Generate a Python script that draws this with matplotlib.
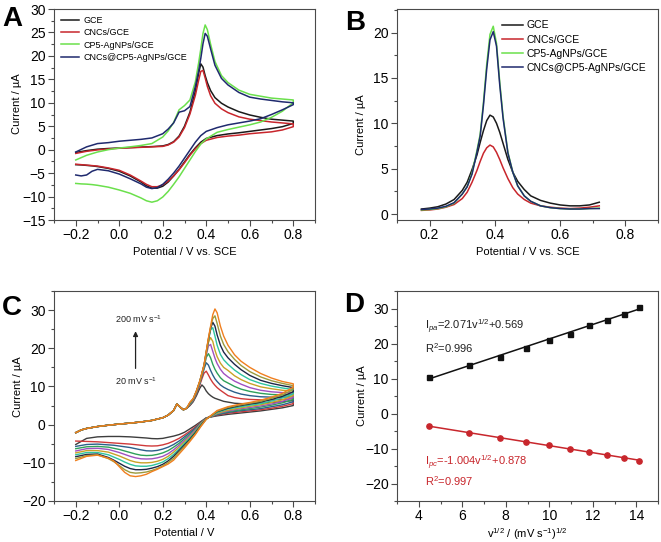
import numpy as np
import matplotlib
matplotlib.use("Agg")
import matplotlib.pyplot as plt
from matplotlib.ticker import MultipleLocator

plt.rcParams['font.family'] = ['Liberation Sans', 'DejaVu Sans']
plt.rcParams['mathtext.fontset'] = 'custom'
plt.rcParams['mathtext.rm'] = 'Liberation Sans'
plt.rcParams['mathtext.it'] = 'Liberation Sans:italic'

# ---------- panel A : CV of the four electrodes ----------
a_labels = ["GCE", "CNCs/GCE", "CP5-AgNPs/GCE", "CNCs@CP5-AgNPs/GCE"]
a_colors = ["#1a1a1a", "#c8262c", "#6be04c", "#1f2a6e"]

a_E_fwd = [-0.2, -0.15, -0.1, -0.05, 0.0, 0.05, 0.1, 0.15, 0.2, 0.225, 0.25, 0.275, 0.3, 0.325,
           0.35, 0.365, 0.375, 0.385, 0.395, 0.405, 0.42, 0.44, 0.47, 0.5, 0.55, 0.6, 0.65, 0.7,
           0.75, 0.8]
gce_fwd = [-0.6, -0.2, 0.1, 0.25, 0.35, 0.45, 0.55, 0.65, 0.8, 1.1, 1.7, 2.9, 5.0, 8.0, 12.5,
           16.3, 18.3, 17.6, 15.8, 14.3, 12.6, 11.1, 9.9, 9.1, 8.1, 7.4, 6.9, 6.5, 6.3, 6.1]
cncs_fwd = [-0.8, -0.35, -0.05, 0.15, 0.3, 0.4, 0.5, 0.6, 0.7, 1.0, 1.6, 2.7, 4.7, 7.6, 11.6,
            14.8, 16.7, 16.9, 15.3, 13.5, 11.5, 9.9, 8.7, 7.9, 7.0, 6.5, 6.2, 5.9, 5.7, 5.5]
cp5_fwd = [-2.2, -1.2, -0.5, 0.0, 0.35, 0.6, 0.9, 1.3, 2.7, 4.0, 5.8, 8.5, 9.4, 10.6, 14.5,
           18.5, 21.5, 24.8, 26.6, 25.6, 22.5, 18.8, 15.8, 14.3, 12.7, 11.8, 11.4, 11.0, 10.8, 10.6]
mix_fwd = [-0.5, 0.6, 1.3, 1.5, 1.8, 2.0, 2.2, 2.5, 3.4, 4.4, 5.7, 8.0, 8.3, 9.2, 13.5, 16.8,
           19.5, 22.6, 24.8, 24.2, 21.5, 18.0, 15.2, 13.8, 12.2, 11.2, 10.8, 10.5, 10.2, 10.0]

a_E_rev = [0.8, 0.75, 0.7, 0.65, 0.6, 0.55, 0.5, 0.45, 0.4, 0.375, 0.35, 0.325, 0.3, 0.275, 0.25,
           0.225, 0.2, 0.175, 0.15, 0.125, 0.1, 0.05, 0.0, -0.05, -0.1, -0.125, -0.15, -0.175, -0.2]
gce_rev = [5.6, 4.9, 4.5, 4.2, 3.9, 3.6, 3.35, 3.0, 2.4, 1.6, 0.4, -1.0, -2.6, -4.2, -5.6, -6.9,
           -7.8, -8.2, -8.2, -7.7, -6.9, -5.6, -4.6, -4.0, -3.6, -3.45, -3.35, -3.25, -3.2]
cncs_rev = [4.9, 4.2, 3.8, 3.6, 3.4, 3.1, 2.9, 2.6, 2.0, 1.3, 0.2, -1.2, -2.8, -4.3, -5.6, -6.7,
            -7.5, -7.9, -7.9, -7.4, -6.7, -5.4, -4.4, -3.9, -3.5, -3.4, -3.3, -3.2, -3.1]
cp5_rev = [10.0, 8.2, 6.9, 5.9, 5.3, 4.8, 4.3, 3.7, 2.3, 1.2, -0.4, -2.2, -4.0, -5.8, -7.4, -8.9,
           -10.1, -10.9, -11.2, -10.9, -10.3, -9.3, -8.6, -8.0, -7.6, -7.45, -7.35, -7.3, -7.2]
mix_rev = [9.6, 8.5, 7.5, 6.6, 6.1, 5.7, 5.3, 4.7, 3.9, 3.0, 1.6, -0.1, -1.8, -3.5, -5.0, -6.3,
           -7.4, -8.1, -8.3, -8.0, -7.3, -6.2, -5.2, -4.5, -4.2, -4.6, -5.4, -5.6, -5.4]

# ---------- panel B : DPV ----------
b_E = [0.175, 0.2, 0.225, 0.25, 0.275, 0.3, 0.315, 0.33, 0.345, 0.355, 0.365, 0.375, 0.385, 0.395,
       0.405, 0.415, 0.425, 0.44, 0.455, 0.47, 0.49, 0.51, 0.54, 0.57, 0.6, 0.63, 0.66, 0.69, 0.72]
gce_dpv = [0.55, 0.65, 0.8, 1.1, 1.6, 2.6, 3.5, 4.9, 6.5, 7.9, 9.2, 10.3, 10.9, 10.7, 10.0, 9.0,
           7.8, 6.0, 4.6, 3.6, 2.7, 2.0, 1.5, 1.2, 1.0, 0.9, 0.9, 1.0, 1.3]
cncs_dpv = [0.4, 0.45, 0.55, 0.75, 1.05, 1.7, 2.4, 3.5, 4.8, 5.8, 6.7, 7.3, 7.6, 7.4, 6.8, 6.0,
            5.1, 3.9, 2.9, 2.2, 1.6, 1.2, 0.9, 0.75, 0.65, 0.6, 0.65, 0.75, 0.9]
cp5_dpv = [0.45, 0.5, 0.6, 0.8, 1.2, 2.2, 3.0, 4.5, 7.0, 8.8, 12.3, 16.5, 19.8, 20.7, 18.8, 14.5,
           10.8, 6.8, 4.6, 3.1, 2.0, 1.4, 0.9, 0.7, 0.6, 0.55, 0.55, 0.6, 0.65]
mix_dpv = [0.5, 0.55, 0.65, 0.85, 1.25, 2.2, 3.0, 4.4, 6.8, 8.6, 12.0, 16.0, 19.2, 20.1, 18.5, 14.2,
           10.6, 6.7, 4.6, 3.1, 2.0, 1.4, 0.9, 0.7, 0.6, 0.55, 0.55, 0.6, 0.6]

# ---------- panel C : CV at 20..200 mV/s ----------
scan_rates = [20, 40, 60, 80, 100, 120, 140, 160, 180, 200]
c_colors = ['#3d3d3d', '#d03a3a', '#2b5f8a', '#2ea05a', '#a050c0',
            '#c9a227', '#2ec4a0', '#1d2747', '#9c9a3c', '#f07f1e']

c_E_common = [-0.2, -0.175, -0.15, -0.1, -0.05, 0.0, 0.05, 0.1, 0.15, 0.2, 0.225, 0.25,
              0.265, 0.28, 0.295, 0.31]
c_I_common = [-2.1, -1.4, -1.0, -0.5, -0.15, 0.15, 0.4, 0.7, 1.1, 1.8, 2.5, 3.7, 5.4, 4.6, 3.9, 4.3]

c_E_fwd = [0.325, 0.34, 0.355, 0.37, 0.38, 0.39, 0.4, 0.41, 0.42, 0.43, 0.44, 0.45, 0.465, 0.48,
           0.5, 0.53, 0.56, 0.6, 0.65, 0.7, 0.75, 0.8]
c_fwd = [
    [5.0, 6.0, 7.6, 9.5, 10.4, 9.8, 8.8, 8.1, 7.6, 7.2, 6.9, 6.7, 6.4, 6.1, 5.9, 5.6, 5.5, 5.5, 5.6, 5.8, 6.0, 6.3],
    [5.1, 6.2, 8.0, 10.3, 12.0, 13.5, 14.0, 13.0, 11.9, 11.0, 10.3, 9.7, 9.0, 8.4, 7.6, 7.1, 6.8, 6.6, 6.5, 6.5, 6.6, 6.8],
    [5.2, 6.3, 8.2, 10.7, 12.6, 14.6, 16.2, 15.6, 14.2, 13.0, 12.0, 11.3, 10.4, 9.8, 9.2, 8.5, 8.0, 7.6, 7.3, 7.2, 7.2, 7.3],
    [5.3, 6.4, 8.4, 10.9, 12.9, 15.0, 17.6, 18.6, 17.5, 15.8, 14.5, 13.5, 12.3, 11.5, 10.9, 10.0, 9.3, 8.7, 8.2, 7.9, 7.8, 7.8],
    [5.4, 6.5, 8.5, 11.0, 13.1, 15.3, 18.2, 20.6, 21.0, 19.2, 17.4, 16.0, 14.5, 13.4, 12.5, 11.4, 10.6, 9.7, 9.0, 8.6, 8.4, 8.3],
    [5.5, 6.6, 8.6, 11.1, 13.2, 15.4, 18.6, 21.5, 22.8, 21.8, 19.5, 17.8, 16.1, 15.0, 14.2, 12.8, 11.8, 10.8, 9.9, 9.4, 9.0, 8.8],
    [5.6, 6.7, 8.7, 11.2, 13.3, 15.5, 18.8, 22.0, 24.8, 25.4, 23.2, 20.8, 18.4, 17.0, 15.8, 14.3, 13.1, 11.8, 10.8, 10.1, 9.6, 9.2],
    [5.7, 6.7, 8.8, 11.3, 13.4, 15.6, 19.0, 22.3, 25.2, 26.8, 25.8, 23.5, 20.8, 19.0, 17.5, 15.8, 14.4, 12.9, 11.6, 10.8, 10.2, 9.7],
    [5.8, 6.8, 8.8, 11.3, 13.4, 15.6, 19.1, 22.5, 25.5, 27.8, 28.5, 26.5, 23.2, 21.0, 19.1, 17.1, 15.5, 13.9, 12.5, 11.5, 10.8, 10.2],
    [5.9, 6.8, 8.9, 11.4, 13.5, 15.7, 19.2, 22.7, 25.8, 28.8, 30.3, 29.3, 25.8, 23.2, 20.8, 18.3, 16.6, 15.0, 13.4, 12.2, 11.3, 10.7],
]

c_E_rev = [0.8, 0.75, 0.7, 0.65, 0.6, 0.55, 0.5, 0.45, 0.4, 0.375, 0.35, 0.325, 0.3, 0.275, 0.25,
           0.225, 0.2, 0.175, 0.15, 0.125, 0.1, 0.075, 0.05, 0.025, 0.0, -0.025, -0.05, -0.1,
           -0.15, -0.2]
c_rev = [
    [5.0, 4.4, 4.0, 3.6, 3.3, 3.0, 2.7, 2.3, 1.8, 0.8, -0.2, -1.1, -2.0, -2.6, -3.0, -3.3, -3.6, -3.7, -3.65, -3.5, -3.4, -3.3, -3.2, -3.15, -3.1, -3.1, -3.1, -3.2, -3.6, -5.2],
    [5.5, 4.8, 4.3, 3.9, 3.6, 3.3, 3.0, 2.5, 1.7, 0.6, -0.6, -1.7, -2.7, -3.6, -4.3, -4.9, -5.3, -5.55, -5.6, -5.55, -5.4, -5.25, -5.1, -5.0, -4.9, -4.8, -4.7, -4.5, -4.4, -4.3],
    [6.0, 5.2, 4.7, 4.2, 3.9, 3.6, 3.2, 2.6, 1.7, 0.5, -0.9, -2.1, -3.2, -4.3, -5.2, -5.9, -6.4, -6.75, -6.9, -6.85, -6.6, -6.3, -6.0, -5.8, -5.6, -5.4, -5.3, -5.1, -5.2, -5.7],
    [6.6, 5.7, 5.1, 4.6, 4.2, 3.8, 3.4, 2.8, 1.6, 0.4, -1.2, -2.5, -3.7, -4.9, -5.9, -6.8, -7.4, -7.8, -8.05, -8.1, -8.0, -7.7, -7.3, -6.9, -6.5, -6.2, -5.9, -5.7, -5.8, -6.3],
    [7.1, 6.1, 5.4, 4.9, 4.5, 4.1, 3.6, 2.9, 1.6, 0.3, -1.4, -2.8, -4.1, -5.4, -6.6, -7.6, -8.3, -8.7, -8.95, -9.0, -8.95, -8.7, -8.3, -7.8, -7.3, -6.9, -6.5, -6.2, -6.3, -6.9],
    [7.6, 6.5, 5.8, 5.2, 4.8, 4.3, 3.8, 3.0, 1.6, 0.2, -1.7, -3.2, -4.5, -5.9, -7.2, -8.3, -9.1, -9.6, -9.9, -10.0, -10.0, -9.8, -9.4, -8.8, -8.2, -7.7, -7.2, -6.8, -6.8, -7.4],
    [8.1, 7.0, 6.2, 5.5, 5.1, 4.6, 4.1, 3.2, 1.5, 0.0, -1.9, -3.5, -4.9, -6.4, -7.8, -8.9, -9.8, -10.3, -10.7, -10.9, -10.9, -10.8, -10.4, -9.8, -9.1, -8.5, -7.9, -7.3, -7.3, -7.9],
    [8.6, 7.4, 6.6, 5.9, 5.4, 4.9, 4.3, 3.4, 1.5, -0.2, -2.1, -3.8, -5.3, -6.8, -8.3, -9.5, -10.4, -11.0, -11.4, -11.7, -11.8, -11.8, -11.5, -10.9, -10.1, -9.3, -8.6, -7.7, -7.8, -8.4],
    [9.2, 7.8, 6.9, 6.1, 5.6, 5.1, 4.5, 3.5, 1.4, -0.4, -2.4, -4.1, -5.7, -7.2, -8.8, -9.9, -10.8, -11.5, -12.0, -12.4, -12.6, -12.7, -12.5, -11.8, -10.7, -9.7, -8.9, -7.9, -8.1, -8.9],
    [9.8, 8.2, 7.2, 6.4, 5.8, 5.3, 4.7, 3.7, 1.4, -0.5, -2.6, -4.4, -6.1, -7.7, -9.3, -10.3, -11.0, -11.7, -12.3, -13.0, -13.4, -13.6, -13.4, -12.5, -11.0, -9.5, -8.8, -8.0, -8.3, -9.4],
]

# ---------- panel D : peak currents vs sqrt(scan rate) ----------
sqrt_v = [4.47, 6.32, 7.75, 8.94, 10.0, 10.95, 11.83, 12.65, 13.42, 14.14]
ipa = [10.4, 14.0, 16.2, 18.6, 21.0, 22.8, 25.4, 26.8, 28.5, 30.3]
ipc = [-3.7, -5.6, -6.9, -8.1, -9.0, -10.0, -10.9, -11.8, -12.7, -13.6]

W, H = 661, 542
fig = plt.figure(figsize=(W / 100, H / 100), dpi=100)


def make_ax(l, r, t, b):
    ax = fig.add_axes([l / W, 1 - b / H, (r - l) / W, (b - t) / H])
    for s in ax.spines.values():
        s.set_color('#4a4a4a')
        s.set_linewidth(0.8)
    ax.tick_params(which='both', direction='out', top=False, right=False,
                   color='#4a4a4a', labelsize=10, pad=2)
    ax.tick_params(which='major', length=4, width=0.8)
    ax.tick_params(which='minor', length=2, width=0.8)
    return ax


lab_fs = 8

# A
axA = make_ax(54, 315, 9, 220)
fwdA = [gce_fwd, cncs_fwd, cp5_fwd, mix_fwd]
revA = [gce_rev, cncs_rev, cp5_rev, mix_rev]
for i in range(4):
    axA.plot(a_E_fwd + a_E_rev, fwdA[i] + revA[i], color=a_colors[i], lw=1.1, label=a_labels[i])
axA.set_xlim(-0.3, 0.9)
axA.set_ylim(-15, 30)
axA.set_xticks([-0.2, 0.0, 0.2, 0.4, 0.6, 0.8])
axA.xaxis.set_minor_locator(MultipleLocator(0.1))
axA.yaxis.set_major_locator(MultipleLocator(5))
axA.yaxis.set_minor_locator(MultipleLocator(2.5))
axA.set_xlabel("Potential / V vs. SCE", fontsize=lab_fs, labelpad=3)
axA.set_ylabel("Current / µA", fontsize=lab_fs)
axA.yaxis.set_label_coords(-0.123, 0.55)
axA.legend(loc='upper left', frameon=False, fontsize=6.5, handlelength=2.0,
           handletextpad=0.5, labelspacing=0.35, borderaxespad=0.6, borderpad=0.2)

# B
axB = make_ax(397, 658, 9, 220)
dpvs = [gce_dpv, cncs_dpv, cp5_dpv, mix_dpv]
for i in range(4):
    axB.plot(b_E, dpvs[i], color=a_colors[i], lw=1.1, label=a_labels[i])
axB.set_xlim(0.1, 0.9)
axB.set_ylim(-0.66, 22.6)
axB.set_xticks([0.2, 0.4, 0.6, 0.8])
axB.xaxis.set_minor_locator(MultipleLocator(0.1))
axB.yaxis.set_major_locator(MultipleLocator(5))
axB.yaxis.set_minor_locator(MultipleLocator(2.5))
axB.set_xlabel("Potential / V vs. SCE", fontsize=lab_fs, labelpad=3)
axB.set_ylabel("Current / µA", fontsize=lab_fs)
axB.yaxis.set_label_coords(-0.119, 0.45)
axB.legend(loc='upper right', frameon=False, fontsize=7.5, handlelength=2.0,
           handletextpad=0.4, labelspacing=0.4, borderaxespad=0.9, borderpad=0.2)

# C
axC = make_ax(54, 315, 291, 501)
for k in range(len(scan_rates)):
    E = c_E_common + c_E_fwd + c_E_rev
    I = c_I_common + c_fwd[k] + c_rev[k]
    axC.plot(E, I, color=c_colors[k], lw=1.0)
axC.set_xlim(-0.3, 0.9)
axC.set_ylim(-20, 35)
axC.set_xticks([-0.2, 0.0, 0.2, 0.4, 0.6, 0.8])
axC.xaxis.set_minor_locator(MultipleLocator(0.1))
axC.yaxis.set_major_locator(MultipleLocator(10))
axC.yaxis.set_minor_locator(MultipleLocator(5))
axC.set_xlabel("Potential / V", fontsize=lab_fs, labelpad=3)
axC.set_ylabel("Current / µA", fontsize=lab_fs)
axC.yaxis.set_label_coords(-0.119, 0.545)
axC.annotate("", xy=(0.075, 25.2), xytext=(0.075, 14.0),
             arrowprops=dict(arrowstyle='-|>', color='#222222', lw=0.9, mutation_scale=7))
axC.text(-0.02, 27.7, "200 mV s$^{-1}$", fontsize=6.5, va='center', ha='left', color='#222222')
axC.text(-0.02, 11.4, "20 mV s$^{-1}$", fontsize=6.5, va='center', ha='left', color='#222222')

# D
axD = make_ax(397, 658, 291, 501)
pa = np.polyfit(sqrt_v, ipa, 1)
pc = np.polyfit(sqrt_v, ipc, 1)
xs = np.array([sqrt_v[0], sqrt_v[-1]])
axD.plot(xs, np.polyval(pa, xs), color='#111111', lw=1.1)
axD.plot(xs, np.polyval(pc, xs), color='#c8262c', lw=1.1)
axD.plot(sqrt_v, ipa, 's', color='#111111', ms=3.6)
axD.plot(sqrt_v, ipc, 'o', color='#c8262c', ms=3.8)
axD.set_xlim(3, 15)
axD.set_ylim(-25, 35)
axD.xaxis.set_major_locator(MultipleLocator(2))
axD.xaxis.set_minor_locator(MultipleLocator(1))
axD.yaxis.set_major_locator(MultipleLocator(10))
axD.yaxis.set_minor_locator(MultipleLocator(5))
axD.set_xlabel("v$^{1/2}$ / (mV s$^{-1}$)$^{1/2}$", fontsize=lab_fs, labelpad=2)
axD.set_ylabel("Current / µA", fontsize=lab_fs)
axD.yaxis.set_label_coords(-0.115, 0.5)
axD.text(4.27, 24.6, "I$_{pa}$=2.071v$^{1/2}$+0.569", fontsize=8, va='center', color='#222222')
axD.text(4.27, 18.8, "R$^{2}$=0.996", fontsize=8, va='center', color='#222222')
axD.text(4.27, -14.1, "I$_{pc}$=-1.004v$^{1/2}$+0.878", fontsize=8, va='center', color='#c8262c')
axD.text(4.27, -19.2, "R$^{2}$=0.997", fontsize=8, va='center', color='#c8262c')

# panel letters
for lab, x, y in [("A", 2, 19), ("B", 345, 23), ("C", 2, 308), ("D", 344, 305)]:
    fig.text(x / W, 1 - y / H, lab, fontsize=20, fontweight='bold', va='center', ha='left')

fig.savefig("out.png", dpi=100)
